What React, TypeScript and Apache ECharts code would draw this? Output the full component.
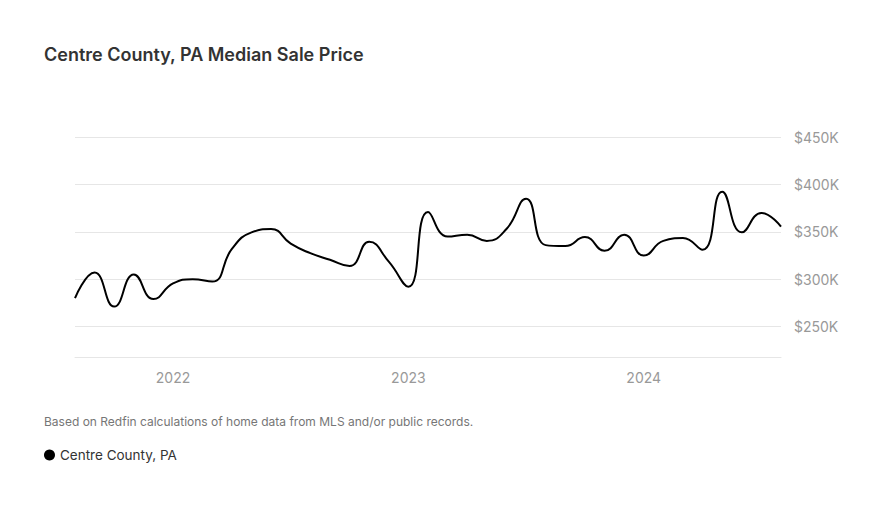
import React, { useEffect, useRef } from "react";
import * as echarts from "echarts";

const months: string[] = [
  "2021-08", "2021-09", "2021-10", "2021-11", "2021-12",
  "2022-01", "2022-02", "2022-03", "2022-04", "2022-05", "2022-06", "2022-07", "2022-08", "2022-09", "2022-10", "2022-11", "2022-12",
  "2023-01", "2023-02", "2023-03", "2023-04", "2023-05", "2023-06", "2023-07", "2023-08", "2023-09", "2023-10", "2023-11", "2023-12",
  "2024-01", "2024-02", "2024-03", "2024-04", "2024-05", "2024-06", "2024-07", "2024-08",
];

const medianPrice: number[] = [
  280000, 307000, 271000, 305000, 279000,
  295500, 300000, 297500, 332000, 349500, 353000, 337500, 327500, 320500, 314000, 339500, 318500,
  292000, 371000, 345000, 347000, 340500, 353000, 385000, 336000, 335000, 344500, 330000, 347000,
  325000, 340500, 343500, 331000, 392500, 349500, 370000, 355500,
];

const yTicks: number[] = [250000, 300000, 350000, 400000, 450000];
const yMin = 217000;
const yMax = 450000;

const seriesName = "Centre County, PA";
const titleText = "Centre County, PA Median Sale Price";
const footnote = "Based on Redfin calculations of home data from MLS and/or public records.";

const FONT = "Inter, sans-serif";

export default function App() {
  const ref = useRef<HTMLDivElement>(null);
  useEffect(() => {
    if (!ref.current) return;
    const chart = echarts.init(ref.current, undefined, { renderer: "svg" });
    chart.setOption({
      animation: false,
      backgroundColor: "#ffffff",
      textStyle: { fontFamily: FONT },
      title: {
        text: titleText,
        left: 39,
        top: 40,
        textStyle: { fontFamily: FONT, fontSize: 18, fontWeight: 600, color: "#333333" },
      },
      legend: {
        data: [{ name: seriesName, icon: "circle" }],
        left: 39,
        top: 443,
        itemWidth: 11,
        itemHeight: 11,
        itemGap: 6,
        textStyle: { fontFamily: FONT, fontSize: 13.5, color: "#333333" },
      },
      graphic: [
        {
          type: "text",
          left: 44,
          top: 415,
          style: { text: footnote, fontFamily: FONT, fontSize: 12, fill: "#767676" },
        },
      ],
      grid: { left: 75, right: 107, top: 137.3, bottom: 509 - 357.7, containLabel: false },
      xAxis: {
        type: "category",
        data: months,
        boundaryGap: false,
        axisLine: { show: true, lineStyle: { color: "#e6e6e6", width: 1 } },
        axisTick: { show: false },
        splitLine: { show: false },
        axisLabel: {
          interval: (idx: number, val: string) => val.endsWith("-01"),
          formatter: (val: string) => val.slice(0, 4),
          color: "#999999",
          fontSize: 14,
          margin: 13,
          fontFamily: FONT,
        },
      },
      yAxis: {
        type: "value",
        position: "right",
        min: yMin,
        max: yMax,
        axisLine: { show: false },
        axisTick: { show: false },
        axisLabel: { show: false },
        splitLine: { show: false },
      },
      series: [
        {
          name: seriesName,
          type: "line",
          data: medianPrice,
          smooth: 0.5,
          symbol: "none",
          lineStyle: { color: "#000000", width: 2 },
          itemStyle: { color: "#000000" },
          markLine: {
            silent: true,
            symbol: ["none", "none"],
            lineStyle: { color: "#e6e6e6", type: "solid", width: 1 },
            label: {
              show: true,
              position: "end",
              distance: 13,
              color: "#999999",
              fontSize: 14,
              fontFamily: FONT,
              formatter: (p: any) => "$" + Math.round(p.value / 1000) + "K",
            },
            data: yTicks.map((v) => ({ yAxis: v })),
            z: 1,
          },
          z: 3,
        },
      ],
    });
    return () => chart.dispose();
  }, []);
  return <div ref={ref} style={{ position: "absolute", left: 0, top: 0, width: 888, height: 509 }} />;
}
